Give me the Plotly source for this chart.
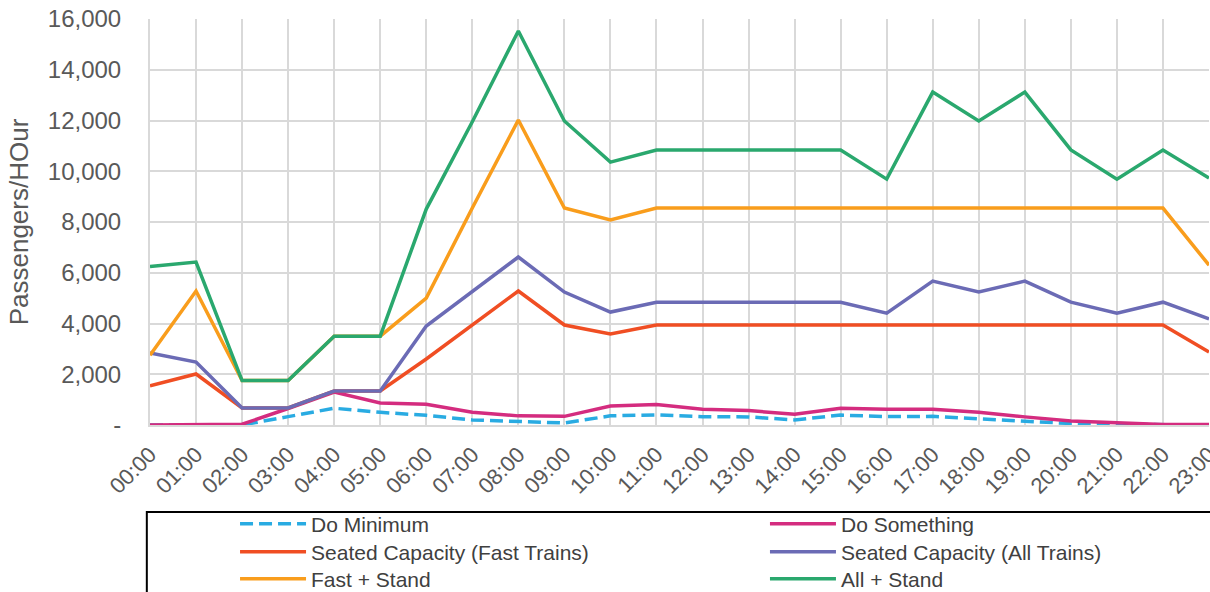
import plotly.graph_objects as go

hours = [f"{h:02d}:00" for h in range(24)]

do_minimum = [0, 0, 0, 330, 660, 500, 380, 200, 130, 80, 360, 400,
              330, 320, 200, 390, 330, 340, 240, 160, 60, 30, 0, 0]
do_something = [0, 0, 30, 650, 1300, 870, 820, 500, 360, 340, 750, 810,
                620, 570, 420, 660, 620, 620, 500, 320, 160, 90, 20, 20]
seated_fast = [1540, 2010, 670, 670, 1340, 1340, 2600, 3940, 5280, 3940, 3590, 3940,
               3940, 3940, 3940, 3940, 3940, 3940, 3940, 3940, 3940, 3940, 3940, 2880]
seated_all = [2840, 2480, 670, 670, 1340, 1340, 3900, 5260, 6620, 5240, 4450, 4840,
              4840, 4840, 4840, 4840, 4410, 5670, 5240, 5670, 4840, 4410, 4840, 4180]
fast_stand = [2750, 5280, 1750, 1750, 3500, 3500, 5000, 8550, 12020, 8550, 8080, 8550,
              8550, 8550, 8550, 8550, 8550, 8550, 8550, 8550, 8550, 8550, 8550, 6300]
all_stand = [6250, 6420, 1750, 1750, 3500, 3500, 8510, 11950, 15530, 11980, 10360, 10840,
             10840, 10840, 10840, 10840, 9690, 13120, 11980, 13120, 10840, 9690, 10840, 9730]

y_ticks = [0, 2000, 4000, 6000, 8000, 10000, 12000, 14000, 16000]
y_labels = ["-"] + [f"{v:,}" for v in y_ticks[1:]]

series = [
    ("Do Minimum", do_minimum, "#29abe2", "13px,6px"),
    ("Do Something", do_something, "#d42c7f", "solid"),
    ("Seated Capacity (Fast Trains)", seated_fast, "#f04e23", "solid"),
    ("Seated Capacity (All Trains)", seated_all, "#6b6bb5", "solid"),
    ("Fast + Stand", fast_stand, "#f99d1c", "solid"),
    ("All + Stand", all_stand, "#2aa86e", "solid"),
]

# one small legend per entry so the two-column grid sits where Excel put it
leg_cols = [0.0803, 0.5807]
leg_rows = [-0.2438, -0.3128, -0.3793]
leg_font = dict(family="Arial, Liberation Sans", size=21, color="#404040")

fig = go.Figure()
legends = {}
for i, (name, vals, color, dash) in enumerate(series):
    leg_id = "legend" if i == 0 else f"legend{i + 1}"
    fig.add_trace(go.Scatter(
        x=hours, y=vals, name=name, mode="lines", legend=leg_id, showlegend=True,
        line=dict(color=color, width=3.5, dash=dash),
    ))
    legends[leg_id] = dict(
        x=leg_cols[i % 2], xanchor="left", y=leg_rows[i // 2], yanchor="middle",
        font=leg_font, bgcolor="rgba(0,0,0,0)", itemwidth=66,
    )

grid = "#d9d9d9"
fig.update_xaxes(
    type="category", range=[0, 23],
    showgrid=True, gridcolor=grid, gridwidth=2,
    tickangle=-45, ticks="", ticklabelstandoff=6,
    tickfont=dict(family="Arial, Liberation Sans", size=22, color="#595959"),
    showline=True, linecolor=grid, linewidth=2,
    zeroline=False, automargin=False,
)
fig.update_yaxes(
    range=[0, 16000], tickvals=y_ticks, ticktext=y_labels,
    showgrid=True, gridcolor=grid, gridwidth=2,
    tickfont=dict(family="Arial, Liberation Sans", size=24, color="#595959"),
    ticks="", ticklabelstandoff=22,
    title=dict(text="Passengers/HOur", standoff=12,
               font=dict(family="Arial, Liberation Sans", size=26, color="#595959")),
    showline=True, linecolor=grid, linewidth=2, zeroline=False, automargin=False,
)

# legend border box, drawn as a shape so it can run off the page like the original
fig.add_shape(type="rect", xref="paper", yref="paper",
              x0=-0.003, x1=1.02, y0=-0.6, y1=-0.214,
              line=dict(color="black", width=2), fillcolor="rgba(0,0,0,0)")

fig.update_layout(
    width=1210, height=592,
    margin=dict(l=150, r=1, t=19, b=167, autoexpand=False),
    paper_bgcolor="white", plot_bgcolor="white",
    font=dict(family="Arial, Liberation Sans", color="#404040"),
    showlegend=True,
    **legends,
)

fig.write_html("out.html", config={"displayModeBar": False},
               post_script="document.body.style.margin='0';")
